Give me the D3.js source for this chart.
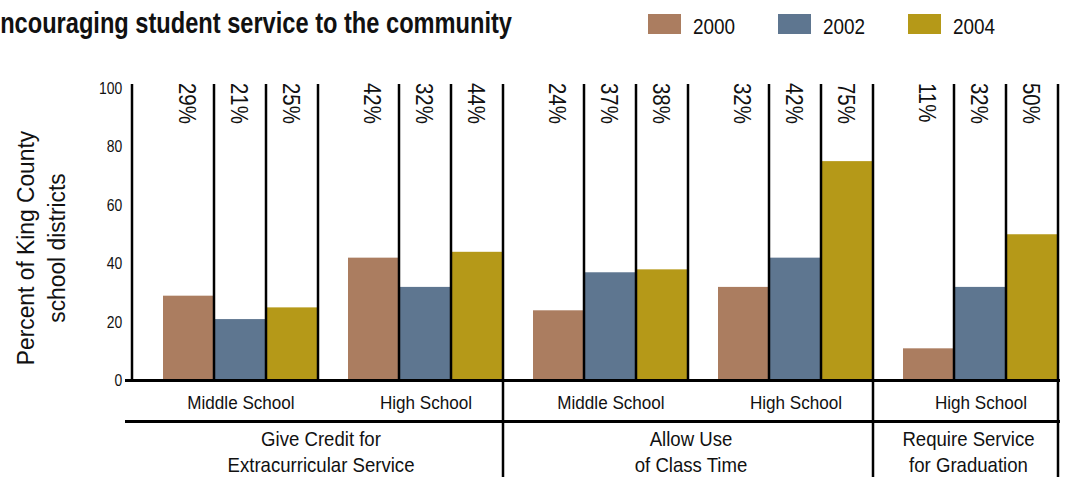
<!DOCTYPE html>
<html><head><meta charset="utf-8">
<script src="https://cdn.jsdelivr.net/npm/d3@7"></script>
<style>
body{margin:0;background:#fff;overflow:hidden;}
svg{display:block;font-family:"Liberation Sans",Arial,sans-serif;}
</style></head><body>
<svg id="chart" width="1071" height="477"></svg>
<script>
// Survey results: share of King County school districts by policy, school level and year
const years = ["2000", "2002", "2004"];
const sectionLines = [
  ["Give Credit for", "Extracurricular Service"],
  ["Allow Use", "of Class Time"],
  ["Require Service", "for Graduation"]
];
const levels = ["Middle School", "High School", "Middle School", "High School", "High School"];
const levelSection = [0, 0, 1, 1, 2];
const values2000 = [29, 42, 24, 32, 11];
const values2002 = [21, 32, 37, 42, 32];
const values2004 = [25, 44, 38, 75, 50];
const yTicks = [0, 20, 40, 60, 80, 100];
const yTitle = ["Percent of King County", "school districts"];
const title = "Encouraging student service to the community";
const colors = ["#AB7D60", "#5E7690", "#B59918"];

const seriesValues = [values2000, values2002, values2004];
const svg = d3.select("#chart");
const ink = "#111";

// text squeezed horizontally to give a condensed face
function label(parent, x, y, str, size, sx, opts = {}) {
  const g = parent.append("g").attr("transform", `translate(${x},${y})` + (opts.rotate ? ` rotate(${opts.rotate})` : ""));
  return g.append("text")
    .attr("transform", `scale(${sx},1)`)
    .attr("font-size", size)
    .attr("font-weight", opts.weight || null)
    .attr("text-anchor", opts.anchor || "start")
    .attr("dy", opts.dy || null)
    .attr("fill", ink)
    .text(str);
}

const axisX = 132, right = 1059, lineTop = 84, bottom = 477;
const y = d3.scaleLinear().domain([0, 100]).range([380.5, 88]);
const x0 = d3.scaleBand().domain(d3.range(levels.length)).range([axisX + 2, right]);
const x1 = d3.scaleBand().domain(years).range([29, x0.bandwidth()]);
const bw = x1.bandwidth();
const color = d3.scaleOrdinal().domain(years).range(colors);

// title (starts just off the left edge)
label(svg, 512, 33, title, 29, 0.815, { anchor: "end", weight: "bold" });

// legend
years.forEach((yr, i) => {
  const g = svg.append("g").attr("transform", `translate(${648 + i * 130},14)`);
  g.append("rect").attr("width", 33).attr("height", 20).attr("fill", color(yr));
  label(g, 45, 20, yr, 22, 0.86);
});

// bars
const cells = [];
levels.forEach((lv, i) => years.forEach((yr, j) => cells.push({ i, yr, j, v: seriesValues[j][i] })));

svg.append("g").selectAll("rect").data(cells).join("rect")
  .attr("x", d => x0(d.i) + x1(d.yr))
  .attr("y", d => y(d.v))
  .attr("width", bw - 2)
  .attr("height", d => y(0) - y(d.v))
  .attr("fill", d => color(d.yr));

// divider lines at the right of each bar; section ends run to the bottom
const sectionEnd = i => i === levels.length - 1 || levelSection[i + 1] !== levelSection[i];
svg.append("g").selectAll("line").data(cells).join("line")
  .attr("x1", d => x0(d.i) + x1(d.yr) + bw - 1)
  .attr("x2", d => x0(d.i) + x1(d.yr) + bw - 1)
  .attr("y1", lineTop)
  .attr("y2", d => (d.j === years.length - 1 && sectionEnd(d.i)) ? bottom : y(0))
  .attr("stroke", "#000").attr("stroke-width", 2.5);

// value labels, rotated, at the top of each column
const valueLayer = svg.append("g");
cells.forEach(d => label(valueLayer, x0(d.i) + x1(d.yr) + (bw - 2) / 2, lineTop - 1, d.v + "%", 24, 0.85,
  { rotate: 90, dy: "0.36em" }));

// y axis
const yAxis = svg.append("g").attr("transform", `translate(${axisX},0)`)
  .call(d3.axisLeft(y).tickValues(yTicks).tickSize(0).tickSizeOuter(0).tickPadding(12));
yAxis.select(".domain").remove();
yAxis.selectAll("text")
  .attr("font-size", 17).attr("font-family", null).attr("fill", ink)
  .attr("transform", "scale(0.82,1)");
svg.append("line").attr("x1", axisX).attr("x2", axisX).attr("y1", lineTop).attr("y2", y(0))
  .attr("stroke", "#000").attr("stroke-width", 2.5);

// baseline and category row rule
[y(0), 421.5].forEach(yy => svg.append("line")
  .attr("x1", 125).attr("x2", right + 1).attr("y1", yy).attr("y2", yy)
  .attr("stroke", "#000").attr("stroke-width", 3));

// school level labels
const levelLayer = svg.append("g");
levels.forEach((lv, i) => label(levelLayer, x0(i) + (29 + x0.bandwidth()) / 2, 409, lv, 19, 0.9, { anchor: "middle" }));

// policy section labels
const sectionLayer = svg.append("g");
sectionLines.forEach((lines, k) => {
  const idx = levels.map((_, i) => i).filter(i => levelSection[i] === k);
  const cx = (x0(idx[0]) + x0(idx[idx.length - 1]) + x0.bandwidth()) / 2 + 2;
  lines.forEach((t, n) => label(sectionLayer, cx, 446 + n * 26, t, 20, 0.93, { anchor: "middle" }));
});

// y axis title
yTitle.forEach((t, n) => label(svg, 34 + n * 31, 248, t, 24, 0.95, { anchor: "middle", rotate: -90 }));
</script>
</body></html>
